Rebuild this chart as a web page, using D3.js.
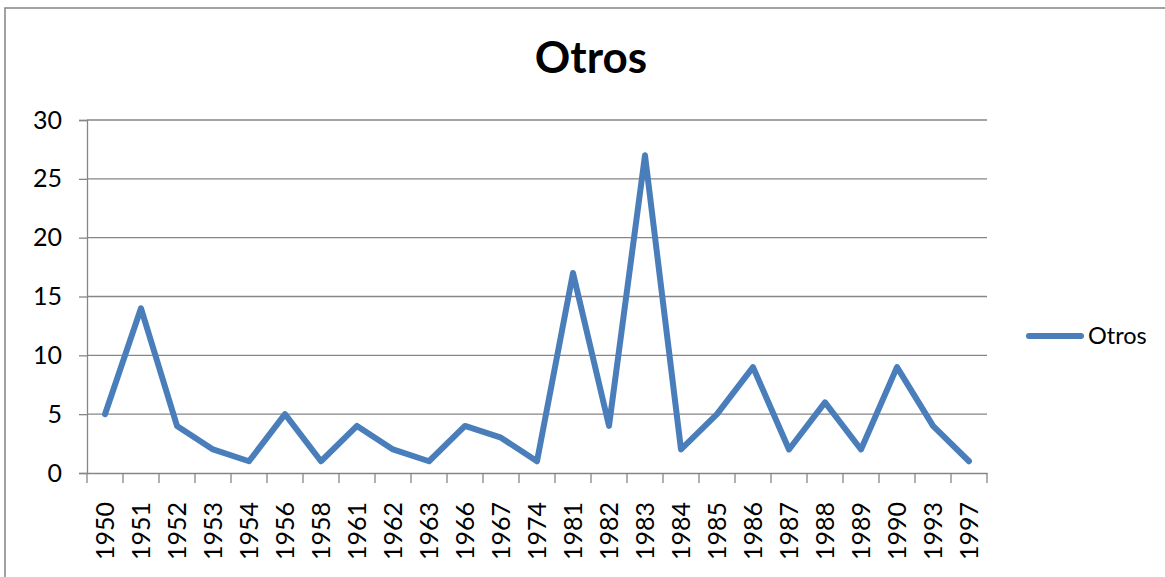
<!DOCTYPE html>
<html>
<head>
<meta charset="utf-8">
<script src="https://cdn.jsdelivr.net/npm/d3@7"></script>
<style>
  html, body { margin: 0; padding: 0; background: #fff; }
  svg { display: block; }
  text { font-family: Lato, "Open Sans", sans-serif; fill: #000; }
</style>
</head>
<body>
<svg id="chart" width="1165" height="577"></svg>
<script>
const title = "Otros";
const seriesName = "Otros";
const years = ["1950","1951","1952","1953","1954","1956","1958","1961","1962","1963","1966","1967","1974","1981","1982","1983","1984","1985","1986","1987","1988","1989","1990","1993","1997"];
const values = [5,14,4,2,1,5,1,4,2,1,4,3,1,17,4,27,2,5,9,2,6,2,9,4,1];
const yTicks = [0,5,10,15,20,25,30];

(function () {
const svg = d3.select("#chart");
const W = 1165, H = 577;
const pLeft = 87, pRight = 987, pTop = 120, pBottom = 473;
const tickFont = 25;

// outer border
svg.append("rect").attr("x", 5).attr("y", 8).attr("width", W + 10).attr("height", H + 10)
  .attr("fill", "none").attr("stroke", "#8a8a8a").attr("stroke-width", 1.6);

const x = d3.scaleBand().domain(years).range([pLeft, pRight]).padding(0);
const y = d3.scaleLinear().domain([0, 30]).range([pBottom, pTop]);

// gridlines
svg.append("g").selectAll("line").data(yTicks.filter(d => d > 0)).join("line")
  .attr("x1", pLeft).attr("x2", pRight)
  .attr("y1", d => y(d)).attr("y2", d => y(d))
  .attr("stroke", "#868686").attr("stroke-width", 1.3);

// y axis
const yAxis = svg.append("g").attr("transform", `translate(${pLeft},0)`)
  .call(d3.axisLeft(y).tickValues(yTicks).tickSize(8).tickPadding(17));
yAxis.select(".domain").attr("stroke", "#868686").attr("stroke-width", 1.3);
yAxis.selectAll(".tick line").attr("stroke", "#868686").attr("stroke-width", 1.3);
yAxis.selectAll("text").attr("font-size", tickFont).attr("font-family", "Lato").attr("fill", "#000");

// x axis
const xAxis = svg.append("g").attr("transform", `translate(0,${pBottom})`)
  .call(d3.axisBottom(x).tickSize(0).tickFormat(""));
xAxis.select(".domain").attr("stroke", "#868686").attr("stroke-width", 1.3);
// category boundary ticks
const bounds = years.map(d => x(d)).concat([x(years[years.length-1]) + x.bandwidth()]);
svg.append("g").selectAll("line").data(bounds).join("line")
  .attr("x1", d => d).attr("x2", d => d)
  .attr("y1", pBottom).attr("y2", pBottom + 10)
  .attr("stroke", "#868686").attr("stroke-width", 1.3);
// labels
svg.append("g").selectAll("text").data(years).join("text")
  .attr("transform", d => `translate(${x(d) + x.bandwidth()/2 + 9},${pBottom + 29}) rotate(-90)`)
  .attr("text-anchor", "end")
  .attr("font-size", tickFont)
  .text(d => d);

// line
const line = d3.line()
  .x((d, i) => x(years[i]) + x.bandwidth()/2)
  .y(d => y(d));
svg.append("path").datum(values)
  .attr("d", line)
  .attr("fill", "none")
  .attr("stroke", "#4a7ebb")
  .attr("stroke-width", 6)
  .attr("stroke-linejoin", "round")
  .attr("stroke-linecap", "round");

// title
svg.append("text").attr("x", 591).attr("y", 73).attr("text-anchor", "middle")
  .attr("font-size", 44).attr("font-weight", "bold").text(title);

// legend
svg.append("line").attr("x1", 1029).attr("x2", 1081).attr("y1", 336).attr("y2", 336)
  .attr("stroke", "#4a7ebb").attr("stroke-width", 6).attr("stroke-linecap", "round");
svg.append("text").attr("x", 1088).attr("y", 344).attr("font-size", 23.5).text(seriesName);
})();
</script>
</body>
</html>
